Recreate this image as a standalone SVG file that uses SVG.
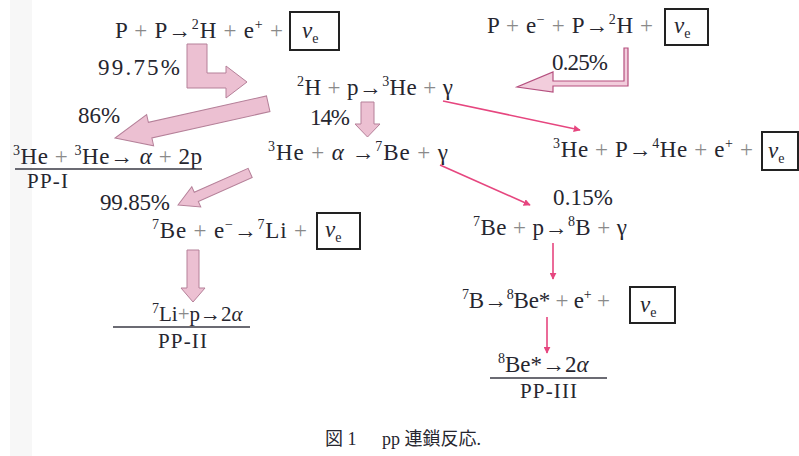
<svg xmlns="http://www.w3.org/2000/svg" width="799" height="456" viewBox="0 0 799 456">
<style>
text{font-family:"Liberation Serif","Times New Roman",serif;font-size:23px;fill:#26262f;}
.op{fill:#8a8a8a;}
.sup{font-size:14px;}
.it{font-style:italic;}
.big{fill:#ecc0d2;stroke:#b58099;stroke-width:1;}
.thin{fill:#f2cddc;stroke:#b5507f;stroke-width:1.2;}
.pink{stroke:#e6467f;stroke-width:1.6;fill:none;marker-end:url(#ah);}
.box{fill:none;stroke:#222;stroke-width:2;}
.ul{stroke:#3a3a44;stroke-width:1.6;}
.cap{font-family:"Liberation Serif","Noto Sans CJK JP",serif;font-size:18px;}
</style>
<defs>
<marker id="ah" viewBox="0 0 10 10" refX="9" refY="5" markerWidth="7" markerHeight="7" markerUnits="userSpaceOnUse" orient="auto"><path d="M0,0 L10,5 L0,10 Z" fill="#e6467f"/></marker>
</defs>
<rect width="799" height="456" fill="#ffffff"/>
<rect x="10" y="0" width="22" height="456" fill="#f7f7f7"/>

<g id="connectors">
<polygon class="big" points="187,44 207,44 207,73 226,73 226,66 247,82 226,98 226,88 187,88"/>
<polygon class="big" transform="translate(115,138) rotate(167.4)" points="0,0 -36,-16 -36,-8 -157,-8 -157,8 -36,8 -36,16"/>
<polygon class="big" points="361,102 374,102 374,124 380,124 367.5,137 355,124 361,124"/>
<polygon class="big" transform="translate(178,205) rotate(156)" points="0,0 -20,-11 -20,-5 -79,-5 -79,5 -20,5 -20,11"/>
<polygon class="big" points="187,250 199,250 199,288 205,288 193,302 181,288 187,288"/>
<polygon class="thin" points="624,48 628,48 628,86 553,86 553,92 517,87 553,72 553,81 624,81"/>
<line class="pink" x1="443" y1="101" x2="580" y2="130"/>
<line class="pink" x1="440" y1="165" x2="530" y2="205"/>
<line class="pink" x1="553" y1="243" x2="553" y2="279"/>
<line class="pink" x1="547" y1="317" x2="547" y2="353"/>
</g>

<g id="pp-start">
<text x="115" y="38" textLength="168">P <tspan class="op">+</tspan> P→<tspan class="sup" dy="-9">2</tspan><tspan dy="9">H </tspan><tspan class="op">+</tspan> e<tspan class="sup" dy="-9">+</tspan><tspan dy="9"> </tspan><tspan class="op">+</tspan></text>
<rect class="box" x="290" y="12" width="49" height="38"/>
<text x="302" y="38"><tspan class="it">ν</tspan><tspan class="sup" dy="5">e</tspan></text>
</g>
<g id="pct-9975"><text x="98" y="75" textLength="82">99.75%</text></g>

<g id="pep-start">
<text x="487" y="33" textLength="166">P <tspan class="op">+</tspan> e<tspan class="sup" dy="-9">−</tspan><tspan dy="9"> </tspan><tspan class="op">+</tspan> P→<tspan class="sup" dy="-9">2</tspan><tspan dy="9">H </tspan><tspan class="op">+</tspan></text>
<rect class="box" x="665" y="9" width="43" height="36"/>
<text x="674" y="33"><tspan class="it">ν</tspan><tspan class="sup" dy="5">e</tspan></text>
</g>
<g id="pct-025"><text x="552" y="70" textLength="56">0.25%</text></g>

<g id="dp">
<text x="297" y="95" textLength="156"><tspan class="sup" dy="-9">2</tspan><tspan dy="9">H </tspan><tspan class="op">+</tspan> p→<tspan class="sup" dy="-9">3</tspan><tspan dy="9">He </tspan><tspan class="op">+</tspan> γ</text>
</g>
<g id="pct-14"><text x="310" y="125" textLength="40">14%</text></g>
<g id="pct-86"><text x="78" y="123">86%</text></g>

<g id="pp1">
<text x="13" y="164" textLength="189"><tspan class="sup" dy="-9">3</tspan><tspan dy="9">He </tspan><tspan class="op">+</tspan> <tspan class="sup" dy="-9">3</tspan><tspan dy="9">He→ </tspan><tspan class="it">α</tspan> <tspan class="op">+</tspan> 2p</text>
<line class="ul" x1="15" y1="169" x2="202" y2="169"/>
<text x="27" y="188" textLength="41" style="font-size:21px">PP-I</text>
</g>

<g id="he3alpha">
<text x="268" y="160" textLength="180"><tspan class="sup" dy="-9">3</tspan><tspan dy="9">He </tspan><tspan class="op">+</tspan> <tspan class="it">α</tspan> →<tspan class="sup" dy="-9">7</tspan><tspan dy="9">Be </tspan><tspan class="op">+</tspan> γ</text>
</g>

<g id="hep">
<text x="553" y="157" textLength="200"><tspan class="sup" dy="-9">3</tspan><tspan dy="9">He </tspan><tspan class="op">+</tspan> P→<tspan class="sup" dy="-9">4</tspan><tspan dy="9">He </tspan><tspan class="op">+</tspan> e<tspan class="sup" dy="-9">+</tspan><tspan dy="9"> </tspan><tspan class="op">+</tspan></text>
<rect class="box" x="762" y="132" width="36" height="38"/>
<text x="768" y="158"><tspan class="it">ν</tspan><tspan class="sup" dy="5">e</tspan></text>
</g>

<g id="pct-9985"><text x="100" y="210" textLength="70">99.85%</text></g>
<g id="pct-015"><text x="553" y="205" textLength="60">0.15%</text></g>

<g id="be7e">
<text x="152" y="238" textLength="155"><tspan class="sup" dy="-9">7</tspan><tspan dy="9">Be </tspan><tspan class="op">+</tspan> e<tspan class="sup" dy="-9">−</tspan><tspan dy="9">→</tspan><tspan class="sup" dy="-9">7</tspan><tspan dy="9">Li </tspan><tspan class="op">+</tspan></text>
<rect class="box" x="317" y="213" width="43" height="36"/>
<text x="325" y="237"><tspan class="it">ν</tspan><tspan class="sup" dy="5">e</tspan></text>
</g>

<g id="be7p">
<text x="473" y="235" textLength="154"><tspan class="sup" dy="-9">7</tspan><tspan dy="9">Be </tspan><tspan class="op">+</tspan> p→<tspan class="sup" dy="-9">8</tspan><tspan dy="9">B </tspan><tspan class="op">+</tspan> γ</text>
</g>

<g id="b8decay">
<text x="462" y="308" textLength="148"><tspan class="sup" dy="-9">7</tspan><tspan dy="9">B→</tspan><tspan class="sup" dy="-9">8</tspan><tspan dy="9">Be* </tspan><tspan class="op">+</tspan> e<tspan class="sup" dy="-9">+</tspan><tspan dy="9"> </tspan><tspan class="op">+</tspan></text>
<rect class="box" x="630" y="287" width="45" height="36"/>
<text x="640" y="312"><tspan class="it">ν</tspan><tspan class="sup" dy="5">e</tspan></text>
</g>

<g id="pp2">
<text x="152" y="321" style="font-size:21px"><tspan class="sup" dy="-8">7</tspan><tspan dy="8">Li</tspan><tspan class="op">+</tspan>p→2<tspan class="it">α</tspan></text>
<line class="ul" x1="113" y1="327" x2="250" y2="327"/>
<text x="158" y="348" textLength="49" style="font-size:21px">PP-II</text>
</g>

<g id="pp3">
<text x="498" y="372"><tspan class="sup" dy="-9">8</tspan><tspan dy="9">Be*→2</tspan><tspan class="it">α</tspan></text>
<line class="ul" x1="490" y1="378" x2="607" y2="378"/>
<text x="520" y="398" textLength="57" style="font-size:21px">PP-III</text>
</g>

<g id="caption">
<text class="cap" x="325" y="445">図 1</text>
<text class="cap" x="382" y="445">pp 連鎖反応.</text>
</g>
</svg>
